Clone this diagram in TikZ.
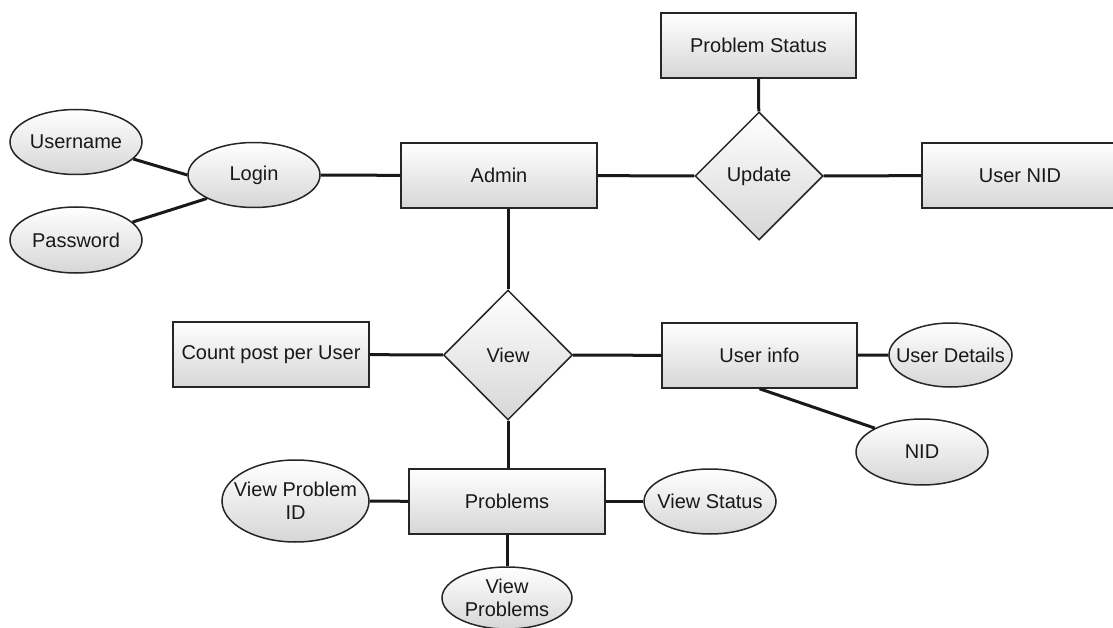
\documentclass[tikz,border=0pt]{standalone}
\usepackage{fontspec}
\setmainfont{Liberation Sans}
\usetikzlibrary{shapes.geometric}

\begin{document}
\begin{tikzpicture}[x=1bp, y=-1bp,
    font=\fontsize{20bp}{23bp}\selectfont,
    entity/.style={draw=black!85, line width=1.5bp, rectangle, top color=white, bottom color=black!16,
        minimum width=196bp, minimum height=65bp, inner sep=0pt, text=black!90},
    attrib/.style={draw=black!85, line width=1.5bp, ellipse, top color=white, bottom color=black!16,
        minimum width=132bp, minimum height=65bp, inner xsep=-24bp, inner ysep=0pt, align=center, text=black!90},
    relation/.style={draw=black!85, line width=1.5bp, diamond, top color=white, bottom color=black!16,
        minimum width=129bp, minimum height=130bp, inner sep=0pt, text=black!90},
    link/.style={line width=3bp, black!90}]

    % Page frame
    \fill[white] (0,0) rectangle (1113,628);
    \useasboundingbox (0,0) rectangle (1113,628);
    \clip (0,0) rectangle (1113,628);

    % Login side
    \node[attrib] (username) at (76,142) {Username};
    \node[attrib, minimum height=66bp] (password) at (76,240) {Password};
    \node[attrib] (login) at (254,175) {Login};

    % Admin box
    \node[entity] (admin) at (499,175.5) {Admin};

    % Update relation
    \node[relation, minimum width=128bp, minimum height=128bp] (update) at (759,176) {Update};
    \node[entity, minimum width=195bp] (pstatus) at (758.5,45.5) {Problem Status};
    \node[entity] (usernid) at (1020,175.5) {User NID};

    % View relation
    \node[relation] (view) at (508,355) {View};
    \node[entity] (countpost) at (271,354.5) {Count post per User};
    \node[entity, minimum width=195bp] (userinfo) at (759.5,355.5) {User info};
    \node[attrib, minimum width=123bp, minimum height=64bp] (userdetails) at (950.5,355) {User Details};
    \node[attrib, minimum height=66bp] (nid) at (922,452) {NID};

    % Problems box
    \node[entity] (problems) at (507,501.5) {Problems};
    \node[attrib, minimum width=147bp, minimum height=82bp] (viewpid) at (295.5,501) {View Problem\\ID};
    \node[attrib] (viewstatus) at (710,501.5) {View Status};
    \node[attrib, minimum width=130bp, minimum height=62bp] (viewprob) at (507,598) {View\\Problems};

    % Connectors
    \draw[link] (username) -- (login.west);
    \draw[link] (password) -- (login.south west);
    \draw[link] (login) -- (admin);
    \draw[link] (admin) -- (update);
    \draw[link] (update) -- (usernid);
    \draw[link] (pstatus) -- (update);
    \draw[link] (view.north |- admin.south) -- (view.north);
    \draw[link] (countpost) -- (view);
    \draw[link] (view) -- (userinfo);
    \draw[link] (userinfo) -- (userdetails);
    \draw[link] (userinfo.south) -- (nid.north west);
    \draw[link] (view.south) -- (view.south |- problems.north);
    \draw[link] (viewpid) -- (problems);
    \draw[link] (problems) -- (viewstatus);
    \draw[link] (problems) -- (viewprob);
\end{tikzpicture}
\end{document}
